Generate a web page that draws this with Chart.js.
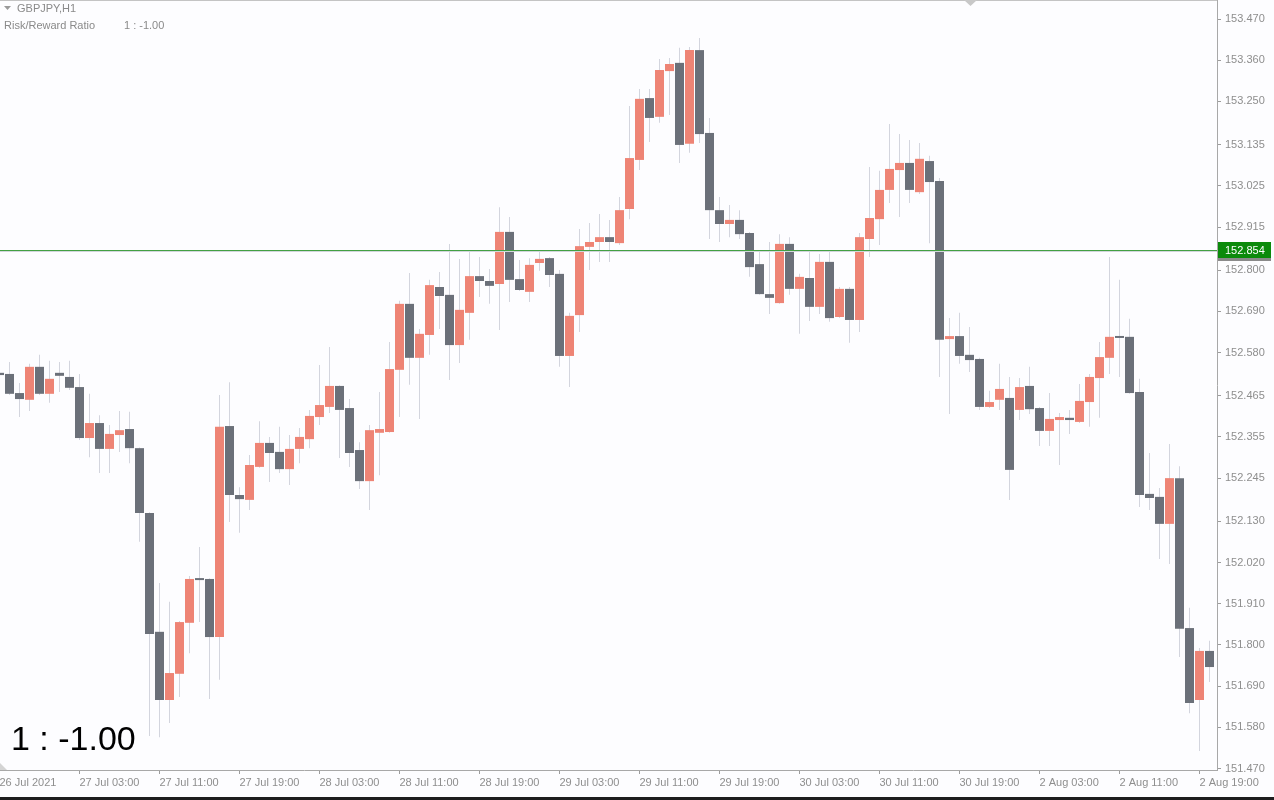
<!DOCTYPE html>
<html>
<head>
<meta charset="utf-8">
<script src="https://cdn.jsdelivr.net/npm/chart.js@4.4.0/dist/chart.umd.min.js"></script>
<style>
html,body{margin:0;padding:0;background:#fdfdff;overflow:hidden;}
</style>
</head>
<body>
<canvas id="chart" width="1274" height="800"></canvas>
<script>
// GBPJPY H1 candles
const opens = [152.526,152.523,152.472,152.454,152.542,152.470,152.526,152.515,152.488,152.352,
152.392,152.323,152.360,152.376,152.325,152.152,151.835,151.653,151.723,151.859,
151.976,151.976,151.821,152.384,152.200,152.187,152.275,152.339,152.315,152.269,
152.323,152.349,152.408,152.435,152.491,152.432,152.320,152.237,152.366,152.368,
152.534,152.710,152.566,152.627,152.755,152.734,152.600,152.686,152.784,152.771,
152.763,152.902,152.776,152.742,152.819,152.832,152.790,152.571,152.680,152.862,
152.875,152.888,152.872,152.963,153.094,153.259,153.209,153.331,153.353,153.137,
153.387,153.166,152.960,152.923,152.934,152.899,152.816,152.736,152.712,152.870,
152.750,152.779,152.702,152.822,152.675,152.750,152.667,152.883,152.936,153.014,
153.067,153.086,153.008,153.091,153.038,152.616,152.624,152.574,152.563,152.435,
152.454,152.459,152.427,152.491,152.432,152.371,152.400,152.406,152.395,152.448,
152.512,152.566,152.622,152.622,152.475,152.203,152.195,152.123,152.245,151.845,
151.653,151.784];
const highs = [152.534,152.555,152.499,152.550,152.574,152.558,152.555,152.558,152.523,152.470,
152.413,152.387,152.424,152.422,152.327,152.154,151.965,151.915,151.864,151.984,
152.061,151.978,152.467,152.501,152.221,152.307,152.397,152.355,152.382,152.360,
152.379,152.427,152.547,152.595,152.493,152.456,152.341,152.387,152.475,152.608,
152.718,152.792,152.643,152.774,152.795,152.870,152.830,152.854,152.835,152.803,
152.968,152.942,152.827,152.832,152.851,152.835,152.800,152.686,152.910,152.926,
152.950,152.934,152.995,153.238,153.283,153.283,153.363,153.366,153.393,153.395,
153.419,153.206,152.995,152.974,152.960,152.902,152.854,152.875,152.896,152.888,
152.790,152.854,152.843,152.851,152.755,152.755,152.899,153.075,153.065,153.190,
153.163,153.147,153.139,153.105,153.046,152.672,152.686,152.648,152.566,152.478,
152.550,152.515,152.512,152.542,152.435,152.472,152.419,152.427,152.496,152.523,
152.608,152.835,152.774,152.670,152.510,152.312,152.219,152.336,152.277,151.899,
151.792,151.811];
const lows = [152.512,152.467,152.408,152.424,152.467,152.446,152.475,152.480,152.347,152.301,
152.259,152.259,152.315,152.285,152.075,151.557,151.554,151.592,151.661,151.778,
151.861,151.656,151.707,152.128,152.099,152.160,152.273,152.235,152.259,152.227,
152.285,152.325,152.387,152.419,152.299,152.275,152.216,152.160,152.253,152.366,
152.408,152.494,152.403,152.574,152.643,152.507,152.552,152.614,152.728,152.710,
152.640,152.715,152.744,152.715,152.798,152.755,152.542,152.488,152.635,152.800,
152.822,152.822,152.867,152.936,153.067,153.142,153.193,153.214,153.086,153.113,
153.139,152.883,152.875,152.888,152.883,152.782,152.734,152.683,152.710,152.734,
152.630,152.664,152.683,152.662,152.672,152.606,152.635,152.835,152.867,152.979,
152.942,152.979,153.003,152.872,152.515,152.416,152.550,152.528,152.427,152.432,
152.427,152.187,152.400,152.416,152.331,152.331,152.280,152.363,152.392,152.382,
152.406,152.523,152.515,152.470,152.168,152.160,152.029,152.016,151.768,151.618,
151.517,151.701];
const closes = [152.520,152.470,152.456,152.542,152.470,152.510,152.518,152.486,152.352,152.392,
152.323,152.363,152.373,152.325,152.152,151.829,151.653,151.725,151.861,151.976,
151.973,151.821,152.382,152.200,152.189,152.280,152.339,152.312,152.269,152.323,
152.355,152.411,152.440,152.491,152.427,152.312,152.237,152.373,152.376,152.536,
152.710,152.566,152.630,152.760,152.731,152.600,152.694,152.784,152.771,152.758,
152.902,152.774,152.747,152.814,152.830,152.787,152.571,152.678,152.864,152.875,
152.888,152.875,152.960,153.099,153.257,153.206,153.334,153.350,153.134,153.387,
153.163,152.960,152.923,152.934,152.896,152.808,152.736,152.726,152.870,152.750,
152.782,152.702,152.822,152.672,152.750,152.667,152.888,152.939,153.014,153.070,
153.086,153.014,153.097,153.035,152.614,152.624,152.571,152.560,152.435,152.448,
152.483,152.267,152.488,152.429,152.371,152.403,152.408,152.400,152.451,152.515,
152.568,152.622,152.619,152.472,152.200,152.192,152.123,152.245,151.843,151.645,
151.784,151.741];

// one time label every 8 bars
const timeLabels = ['26 Jul 2021','27 Jul 03:00','27 Jul 11:00','27 Jul 19:00','28 Jul 03:00','28 Jul 11:00',
'28 Jul 19:00','29 Jul 03:00','29 Jul 11:00','29 Jul 19:00','30 Jul 03:00','30 Jul 11:00',
'30 Jul 19:00','2 Aug 03:00','2 Aug 11:00','2 Aug 19:00'];
const labelStep = 8;
const priceTicks = [153.470,153.360,153.250,153.135,153.025,152.915,152.800,152.690,152.580,152.465,
152.355,152.245,152.130,152.020,151.910,151.800,151.690,151.580,151.470];
const lineLevel = 152.854;
const ratioText = '1 : -1.00';

const UP = '#ee8475';
const DOWN = '#6b7079';
const WICK = '#d3d5de';
const AXIS = '#8e8e8e';
const FONT = "'Liberation Sans', Arial, sans-serif";

let bodies = [];
let wicks = [];
let colors = [];
opens.forEach((o, i) => {
  bodies.push({x: i, y: [o, closes[i]]});
  wicks.push({x: i, y: [lows[i], highs[i]]});
  colors.push(closes[i] >= o ? UP : DOWN);
});

// overlays : level line, price box, texts
const extras = {
  id: 'extras',
  afterDraw(chart) {
    const ctx = chart.ctx;
    const area = chart.chartArea;
    const ys = chart.scales.y;
    ctx.save();
    // top border
    ctx.fillStyle = '#c4c4c4';
    ctx.fillRect(0, 0, area.right, 1);
    // shift marker
    ctx.fillStyle = '#c8c8c8';
    ctx.beginPath();
    ctx.moveTo(964, 0); ctx.lineTo(977, 0); ctx.lineTo(970.5, 6); ctx.closePath(); ctx.fill();
    ctx.fillStyle = '#d4d4d4';
    ctx.beginPath();
    ctx.moveTo(0, area.bottom - 7); ctx.lineTo(7, area.bottom); ctx.lineTo(0, area.bottom); ctx.closePath(); ctx.fill();

    // level line
    let y = Math.round(ys.getPixelForValue(lineLevel));
    ctx.fillStyle = '#d2d6dc';
    ctx.fillRect(area.left, y + 1, area.right - area.left, 1);
    ctx.fillStyle = '#43a043';
    ctx.fillRect(area.left, y, area.right - area.left, 1);
    ctx.fillStyle = '#8a8a8a';
    ctx.fillRect(1218, y + 8, 53, 3);
    ctx.fillStyle = '#0b8a0b';
    ctx.fillRect(1218, y - 8, 53, 16);
    ctx.fillStyle = '#ffffff';
    ctx.font = '11px ' + FONT;
    ctx.textBaseline = 'middle';
    ctx.textAlign = 'left';
    ctx.fillText(lineLevel.toFixed(3), 1225, y + 0.5);

    // header
    ctx.fillStyle = '#9a9a9a';
    ctx.beginPath();
    ctx.moveTo(4, 6); ctx.lineTo(11, 6); ctx.lineTo(7.5, 10); ctx.closePath(); ctx.fill();
    ctx.fillStyle = '#8a8a8a';
    ctx.font = '11px ' + FONT;
    ctx.fillText('GBPJPY,H1', 17, 9);
    ctx.fillText('Risk/Reward Ratio', 4, 26);
    ctx.fillText(ratioText, 124, 26);

    // big ratio
    ctx.fillStyle = '#000000';
    ctx.font = '34px ' + FONT;
    ctx.textBaseline = 'alphabetic';
    ctx.fillText(ratioText, 11, 750);

    // window edge
    ctx.fillStyle = '#1e1e1e';
    ctx.fillRect(0, 797, 1274, 3);
    ctx.restore();
  }
};

new Chart(document.getElementById('chart'), {
  type: 'bar',
  data: {
    datasets: [
      {label: 'wick', data: wicks, backgroundColor: WICK, barThickness: 1, grouped: false, order: 2, borderWidth: 0, inflateAmount: 0},
      {label: 'body', data: bodies, backgroundColor: colors, barThickness: 9, grouped: false, order: 1, borderWidth: 0, inflateAmount: 0, minBarLength: 2}
    ]
  },
  options: {
    responsive: false,
    animation: false,
    layout: {padding: 0},
    plugins: {legend: {display: false}, tooltip: {enabled: false}},
    scales: {
      x: {
        type: 'linear',
        min: 0.05,
        max: 121.75,
        offset: false,
        grid: {drawOnChartArea: false, drawTicks: true, tickLength: 4, color: '#9c9c9c', offset: false},
        border: {display: true, color: '#a8a8a8'},
        ticks: {
          autoSkip: false, maxRotation: 0, align: 'start', padding: 2, labelOffset: 0,
          color: AXIS, font: {family: FONT, size: 11},
          callback: (v, idx) => timeLabels[idx]
        },
        afterBuildTicks: (s) => { s.ticks = timeLabels.map((t, k) => ({value: k * labelStep})); },
        afterFit: (s) => { s.height = 30; s.paddingLeft = 0; s.paddingRight = 0; }
      },
      y: {
        position: 'right',
        min: 151.4663,
        max: 153.5207,
        grid: {drawOnChartArea: false, drawTicks: true, tickLength: 4, color: '#9c9c9c'},
        border: {display: true, color: '#a8a8a8'},
        ticks: {
          autoSkip: false, padding: 4,
          color: AXIS, font: {family: FONT, size: 11},
          callback: (v) => v.toFixed(3)
        },
        afterBuildTicks: (s) => { s.ticks = priceTicks.map(v => ({value: v})); },
        afterFit: (s) => { s.width = 57; s.paddingTop = 0; s.paddingBottom = 0; }
      }
    }
  },
  plugins: [extras]
});
</script>
</body>
</html>
